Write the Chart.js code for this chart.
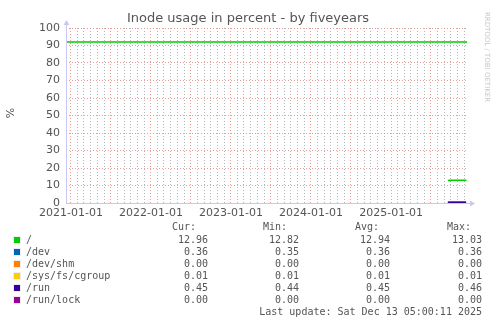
<!DOCTYPE html>
<html>
<head>
<meta charset="utf-8">
<script src="https://cdn.jsdelivr.net/npm/chart.js@4/dist/chart.umd.min.js"></script>
<style>
  html, body { margin: 0; padding: 0; background: #fff; }
  #chart { display: block; }
</style>
</head>
<body>
<canvas id="chart" width="497" height="324"></canvas>
<script>
// Chart data
const titleText = 'Inode usage in percent - by fiveyears';
const seriesNames = ['/', '/dev', '/dev/shm', '/sys/fs/cgroup', '/run', '/run/lock'];
const seriesColors = ['#00cc00', '#0066b3', '#ff8000', '#ffcc00', '#330099', '#990099'];
const sampleDates = ['2025-09-17', '2025-09-26', '2025-10-10', '2025-10-25', '2025-11-10', '2025-11-25', '2025-12-09'];
const rootValues   = [12.82, 12.96, 12.96, 12.98, 13.03, 12.94, 12.96];
const devValues    = [0.35, 0.36, 0.36, 0.36, 0.36, 0.36, 0.36];
const shmValues    = [0.00, 0.00, 0.00, 0.00, 0.00, 0.00, 0.00];
const cgroupValues = [0.01, 0.01, 0.01, 0.01, 0.01, 0.01, 0.01];
const runValues    = [0.44, 0.45, 0.45, 0.46, 0.45, 0.45, 0.45];
const lockValues   = [0.00, 0.00, 0.00, 0.00, 0.00, 0.00, 0.00];
const rootWarning = 92;
const curValues = ['12.96', '0.36', '0.00', '0.01', '0.45', '0.00'];
const minValues = ['12.82', '0.35', '0.00', '0.01', '0.44', '0.00'];
const avgValues = ['12.94', '0.36', '0.00', '0.01', '0.45', '0.00'];
const maxValues = ['13.03', '0.36', '0.00', '0.01', '0.46', '0.00'];
const lastUpdate = 'Last update: Sat Dec 13 05:00:11 2025';
const yTickLabels = [0, 10, 20, 30, 40, 50, 60, 70, 80, 90, 100];
const xTickYears = [2021, 2022, 2023, 2024, 2025];

const rangeStart = Date.UTC(2020, 11, 9, 5);
const rangeEnd = Date.UTC(2025, 11, 13, 5);

// monthly grid positions
const monthTicks = [];
for (let y = 2021; y <= 2025; y++) {
    for (let m = 0; m < 12; m++) {
        const t = Date.UTC(y, m, 1);
        if (t <= rangeEnd) monthTicks.push(t);
    }
}

const toTime = d => Date.parse(d + 'T00:00:00Z');
const allValues = [rootValues, devValues, shmValues, cgroupValues, runValues, lockValues];

const datasets = seriesNames.map((name, i) => ({
    label: name,
    data: sampleDates.map((d, k) => ({ x: toTime(d), y: allValues[i][k] })),
    borderColor: seriesColors[i],
    borderWidth: 1.5,
    pointRadius: 0,
    stepped: true,
    fill: false,
    order: name === '/run' ? 0 : 10 - i
}));
// warning rule for "/"
datasets.push({
    label: 'warning',
    data: [{ x: rangeStart, y: rootWarning }, { x: rangeEnd, y: rootWarning }],
    borderColor: '#00cc00',
    borderWidth: 1.5,
    pointRadius: 0,
    fill: false,
    order: 20
});

const gridRed = 'rgba(230, 140, 140, 0.85)';
const gridGray = 'rgba(175, 175, 175, 0.9)';

const decorPlugin = {
    id: 'decor',
    afterDraw(chart) {
        const ctx = chart.ctx;
        const area = chart.chartArea;
        ctx.save();

        // title
        ctx.fillStyle = '#555';
        ctx.font = '13px "DejaVu Sans"';
        ctx.textAlign = 'center';
        ctx.textBaseline = 'middle';
        ctx.fillText(titleText, 248, 19);

        // y unit
        ctx.save();
        ctx.translate(11, 113);
        ctx.rotate(-Math.PI / 2);
        ctx.font = '11px "DejaVu Sans"';
        ctx.fillText('%', 0, 0);
        ctx.restore();

        // watermark
        ctx.save();
        ctx.translate(487, 57);
        ctx.rotate(Math.PI / 2);
        ctx.fillStyle = '#c8c8c8';
        ctx.font = '7px "DejaVu Sans"';
        ctx.fillText('RRDTOOL / TOBI OETIKER', 0, 0);
        ctx.restore();

        // axes with arrows
        ctx.strokeStyle = '#c8c8f0';
        ctx.fillStyle = '#c8c8f0';
        ctx.lineWidth = 1;
        const x0 = Math.round(area.left) + 0.5;
        const y0 = Math.round(area.bottom) + 0.5;
        ctx.beginPath();
        ctx.moveTo(x0, y0);
        ctx.lineTo(x0, area.top - 4);
        ctx.moveTo(x0, y0);
        ctx.lineTo(area.right + 4, y0);
        ctx.stroke();
        ctx.beginPath();
        ctx.moveTo(x0 - 3, area.top - 3);
        ctx.lineTo(x0 + 3, area.top - 3);
        ctx.lineTo(x0, area.top - 8);
        ctx.closePath();
        ctx.fill();
        ctx.beginPath();
        ctx.moveTo(area.right + 3, y0 - 3);
        ctx.lineTo(area.right + 3, y0 + 3);
        ctx.lineTo(area.right + 8, y0);
        ctx.closePath();
        ctx.fill();

        // legend
        ctx.font = '10px "DejaVu Sans Mono"';
        ctx.textBaseline = 'middle';
        ctx.fillStyle = '#555';
        ctx.textAlign = 'left';
        ctx.fillText('Cur:', 172, 227);
        ctx.fillText('Min:', 263, 227);
        ctx.fillText('Avg:', 355, 227);
        ctx.fillText('Max:', 447, 227);
        const rowY = [240, 252, 264, 276, 288, 300];
        seriesNames.forEach((name, i) => {
            const y = rowY[i];
            ctx.fillStyle = '#eee';
            ctx.fillRect(13, y - 4, 8, 8);
            ctx.fillStyle = seriesColors[i];
            ctx.fillRect(14, y - 3, 6, 6);
            ctx.fillStyle = '#555';
            ctx.textAlign = 'left';
            ctx.fillText(name, 26, y);
            ctx.textAlign = 'right';
            ctx.fillText(curValues[i], 208, y);
            ctx.fillText(minValues[i], 299, y);
            ctx.fillText(avgValues[i], 390, y);
            ctx.fillText(maxValues[i], 482, y);
        });
        ctx.textAlign = 'right';
        ctx.fillText(lastUpdate, 482, 312);
        ctx.restore();
    }
};

new Chart(document.getElementById('chart'), {
    type: 'line',
    data: { datasets },
    options: {
        responsive: false,
        animation: false,
        layout: { padding: { left: 0, right: 30, top: 28, bottom: 0 } },
        plugins: {
            legend: { display: false },
            title: { display: false },
            tooltip: { enabled: false }
        },
        scales: {
            x: {
                type: 'linear',
                min: rangeStart,
                max: rangeEnd,
                afterBuildTicks: scale => {
                    scale.ticks = monthTicks.map(v => ({ value: v }));
                },
                afterFit: scale => { scale.height = 121; },
                ticks: {
                    autoSkip: false,
                    maxRotation: 0,
                    padding: 4,
                    color: '#555',
                    font: { family: 'DejaVu Sans', size: 11 },
                    callback: value => {
                        const d = new Date(value);
                        if (d.getUTCMonth() === 0 && xTickYears.includes(d.getUTCFullYear())) {
                            return d.getUTCFullYear() + '-01-01';
                        }
                        return '';
                    }
                },
                grid: {
                    drawTicks: false,
                    lineWidth: 1,
                    color: ctx => {
                        const m = new Date(ctx.tick.value).getUTCMonth();
                        return (m === 0 || m === 6) ? gridRed : gridGray;
                    }
                },
                border: { display: false, dash: [1, 2] }
            },
            y: {
                min: 0,
                max: 100,
                afterFit: scale => { scale.width = 66; },
                ticks: {
                    stepSize: 5,
                    padding: 6,
                    color: '#555',
                    font: { family: 'DejaVu Sans', size: 11 },
                    callback: value => yTickLabels.includes(value) ? String(value) : ''
                },
                grid: {
                    drawTicks: false,
                    lineWidth: 1,
                    color: ctx => (ctx.tick.value % 10 === 0) ? gridRed : gridGray
                },
                border: { display: false, dash: [1, 2] }
            }
        }
    },
    plugins: [decorPlugin]
});
</script>
</body>
</html>
